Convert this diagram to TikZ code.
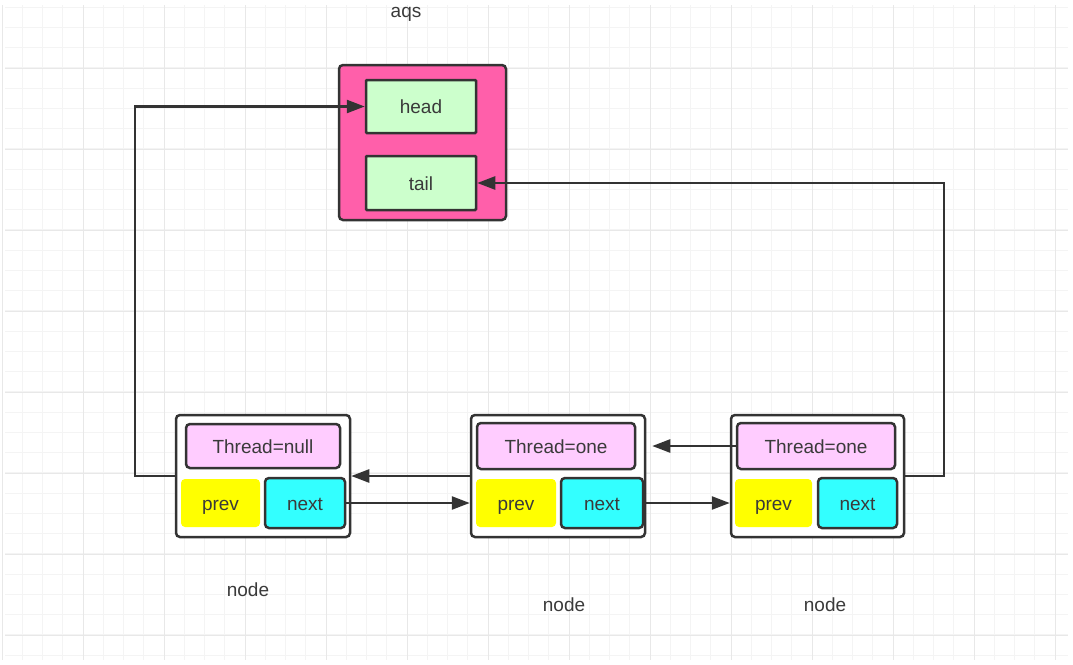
\documentclass[tikz,border=0pt]{standalone}
\usepackage{fontspec}
\setmainfont{Liberation Sans}
\usetikzlibrary{arrows.meta}
\definecolor{bord}{HTML}{333333}
\definecolor{txt}{HTML}{3A3A3A}
\definecolor{aqspink}{HTML}{FF5FAA}
\definecolor{hgreen}{HTML}{CCFFCC}
\definecolor{thpink}{HTML}{FFCCFF}
\definecolor{pyellow}{HTML}{FFFF00}
\definecolor{ncyan}{HTML}{33FFFF}
\definecolor{gminc}{HTML}{F4F4F4}
\definecolor{gmajc}{HTML}{E8E8E8}
\tikzset{
  gmin/.style={draw=gminc, line width=1pt},
  gmaj/.style={draw=gmajc, line width=1pt},
  txtbase/.style={text=txt, font=\fontsize{19}{22}\selectfont, text height=18pt, text depth=4pt},
  box/.style={rectangle, rounded corners=4pt, draw=bord, line width=2.5pt, inner sep=0pt, txtbase},
  plain/.style={rectangle, rounded corners=4pt, inner sep=0pt, txtbase},
  lbl/.style={inner sep=0pt, txtbase},
  arr/.style={draw=bord, line width=2.5pt, -{Triangle[length=18pt,width=13pt]}},
}
\begin{document}
\begin{tikzpicture}[x=1pt,y=-1pt]
\useasboundingbox (0,0) rectangle (1073,664);
\fill[white] (0,0) rectangle (1073,664);
% grid
\foreach \i in {0,...,52} \draw[gmin] ({2+\i*20.25},5) -- ({2+\i*20.25},660);
\foreach \j in {0,...,32} \draw[gmin] (5,{7+\j*20.25}) -- (1068,{7+\j*20.25});
\foreach \i in {0,...,13} \draw[gmaj] ({2+\i*81},5) -- ({2+\i*81},660);
\foreach \k in {0,...,7} \draw[gmaj] (5,{68+\k*81}) -- (1068,{68+\k*81});

% aqs
\node[lbl] (aqslbl) at (406,10) {aqs};
\node[box, fill=aqspink, minimum width=167pt, minimum height=155pt] (aqs) at (422.5,142.5) {};
\node[box, fill=hgreen, rounded corners=1pt, minimum width=110pt, minimum height=53pt] (head) at (421,106.5) {head};
\node[box, fill=hgreen, rounded corners=1pt, minimum width=110pt, minimum height=54pt] (tail) at (421,183) {tail};

% node 1
\node[box, fill=white, minimum width=174pt, minimum height=122pt] (n1) at (263,476) {};
\node[box, fill=thpink, minimum width=154pt, minimum height=44pt] (t1) at (263,446) {Thread=null};
\node[plain, fill=pyellow, minimum width=79pt, minimum height=48pt] (p1) at (220.5,503) {prev};
\node[box, fill=ncyan, minimum width=80pt, minimum height=50pt] (x1) at (305,503) {next};

% node 2
\node[box, fill=white, minimum width=174pt, minimum height=122pt] (n2) at (558,476) {};
\node[box, fill=thpink, minimum width=158pt, minimum height=46pt] (t2) at (556,446) {Thread=one};
\node[plain, fill=pyellow, minimum width=80pt, minimum height=48pt] (p2) at (516,503) {prev};
\node[box, fill=ncyan, minimum width=82pt, minimum height=50pt] (x2) at (602,503) {next};

% node 3
\node[box, fill=white, minimum width=173pt, minimum height=122pt] (n3) at (817.5,476) {};
\node[box, fill=thpink, minimum width=158pt, minimum height=46pt] (t3) at (816,446) {Thread=one};
\node[plain, fill=pyellow, minimum width=77pt, minimum height=48pt] (p3) at (773.5,503) {prev};
\node[box, fill=ncyan, minimum width=79pt, minimum height=50pt] (x3) at (857.5,503) {next};

% labels
\node[lbl] (l1) at (248,589) {node};
\node[lbl] (l2) at (564,604) {node};
\node[lbl] (l3) at (825,604) {node};

% connectors
\coordinate (c1) at (135,476);
\coordinate (c2) at (944,476);
\draw[arr] (n1.west) -- (c1) |- (head.west);
\draw[arr] (n3.east) -- (c2) |- (tail.east);
\draw[arr] (n2.west) -- (n1.east);
\draw[arr] (x1.east) -- (x1.east -| n2.west);
\draw[arr] (x2.east) -- (x2.east -| n3.west);
\draw[arr, shorten >=6pt] (t3.west) -- (t3.west -| n2.east);
\end{tikzpicture}
\end{document}
